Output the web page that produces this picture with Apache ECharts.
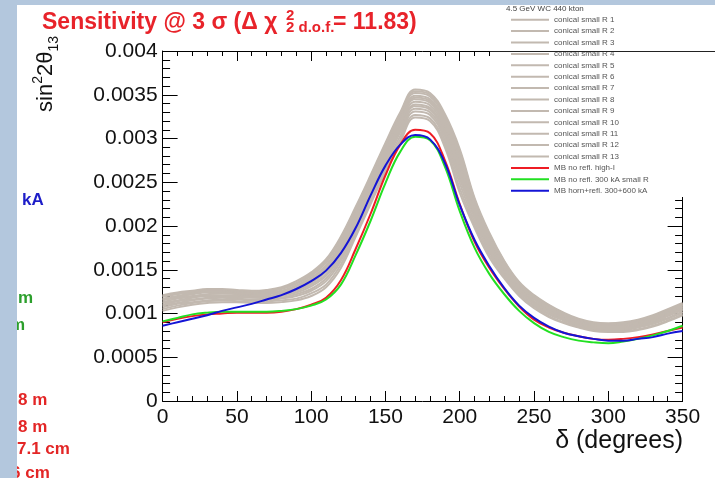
<!DOCTYPE html>
<html>
<head>
<meta charset="utf-8">
<script src="https://cdn.jsdelivr.net/npm/echarts@6/dist/echarts.min.js"></script>
<style>
html, body { margin: 0; padding: 0; background: #fff; }
#ch { width: 715px; height: 478px; }
</style>
</head>
<body>
<div id="ch"></div>
<script>
// delta in degrees, sensitivity values in units of 1e-3 (axis labels show the real value)
const delta = [0, 10, 20, 30, 40, 50, 60, 70, 80, 90, 100, 110, 120, 130, 140, 150, 160, 170,
  180, 190, 200, 210, 220, 230, 240, 250, 260, 270, 280, 290, 300, 310, 320, 330, 340, 350]

const conical1 = [1.21, 1.24, 1.26, 1.28, 1.28, 1.27, 1.26, 1.27, 1.30, 1.37, 1.47, 1.62, 1.88, 2.22, 2.58, 2.95, 3.30, 3.56, 3.52, 3.28, 2.88, 2.32, 1.92, 1.60, 1.36, 1.21, 1.10, 1.01, 0.94, 0.90, 0.89, 0.90, 0.93, 0.98, 1.05, 1.12]
const conical2 = [1.20, 1.23, 1.25, 1.27, 1.27, 1.26, 1.25, 1.26, 1.29, 1.35, 1.45, 1.60, 1.86, 2.20, 2.56, 2.93, 3.28, 3.54, 3.50, 3.25, 2.85, 2.30, 1.90, 1.59, 1.35, 1.20, 1.09, 1.00, 0.93, 0.89, 0.88, 0.89, 0.92, 0.97, 1.04, 1.11]
const conical3 = [1.19, 1.22, 1.24, 1.26, 1.26, 1.25, 1.24, 1.25, 1.28, 1.34, 1.43, 1.58, 1.83, 2.17, 2.53, 2.90, 3.25, 3.52, 3.48, 3.23, 2.81, 2.27, 1.88, 1.57, 1.34, 1.19, 1.08, 0.99, 0.93, 0.89, 0.88, 0.89, 0.91, 0.96, 1.03, 1.10]
const conical4 = [1.17, 1.20, 1.23, 1.25, 1.25, 1.24, 1.23, 1.24, 1.26, 1.32, 1.41, 1.55, 1.80, 2.15, 2.51, 2.88, 3.23, 3.49, 3.45, 3.20, 2.78, 2.25, 1.86, 1.56, 1.33, 1.18, 1.07, 0.99, 0.92, 0.88, 0.87, 0.88, 0.90, 0.95, 1.02, 1.09]
const conical5 = [1.16, 1.19, 1.22, 1.24, 1.24, 1.23, 1.22, 1.23, 1.25, 1.31, 1.39, 1.53, 1.78, 2.13, 2.49, 2.86, 3.21, 3.47, 3.43, 3.17, 2.74, 2.23, 1.84, 1.54, 1.32, 1.17, 1.06, 0.98, 0.91, 0.87, 0.86, 0.87, 0.90, 0.94, 1.01, 1.08]
const conical6 = [1.15, 1.18, 1.20, 1.22, 1.23, 1.22, 1.21, 1.22, 1.24, 1.29, 1.37, 1.51, 1.75, 2.10, 2.46, 2.83, 3.18, 3.45, 3.41, 3.14, 2.70, 2.20, 1.82, 1.53, 1.30, 1.16, 1.05, 0.97, 0.90, 0.86, 0.85, 0.86, 0.89, 0.93, 1.00, 1.07]
const conical7 = [1.13, 1.17, 1.19, 1.21, 1.21, 1.21, 1.20, 1.20, 1.23, 1.27, 1.35, 1.48, 1.72, 2.07, 2.44, 2.81, 3.15, 3.42, 3.38, 3.11, 2.66, 2.17, 1.80, 1.51, 1.29, 1.14, 1.04, 0.96, 0.90, 0.86, 0.85, 0.85, 0.88, 0.92, 0.99, 1.06]
const conical8 = [1.12, 1.15, 1.18, 1.20, 1.20, 1.20, 1.19, 1.19, 1.21, 1.26, 1.33, 1.45, 1.69, 2.04, 2.41, 2.78, 3.12, 3.39, 3.35, 3.08, 2.62, 2.14, 1.77, 1.50, 1.28, 1.13, 1.03, 0.95, 0.89, 0.85, 0.84, 0.84, 0.87, 0.91, 0.98, 1.05]
const conical9 = [1.10, 1.14, 1.16, 1.18, 1.19, 1.19, 1.18, 1.18, 1.20, 1.24, 1.31, 1.43, 1.66, 2.02, 2.38, 2.75, 3.10, 3.37, 3.33, 3.05, 2.58, 2.12, 1.75, 1.48, 1.26, 1.12, 1.02, 0.94, 0.88, 0.84, 0.83, 0.83, 0.86, 0.90, 0.97, 1.04]
const conical10 = [1.09, 1.12, 1.15, 1.17, 1.18, 1.17, 1.16, 1.17, 1.18, 1.22, 1.28, 1.40, 1.63, 1.99, 2.35, 2.72, 3.07, 3.34, 3.30, 3.02, 2.54, 2.09, 1.73, 1.46, 1.25, 1.11, 1.00, 0.93, 0.87, 0.83, 0.82, 0.82, 0.85, 0.89, 0.95, 1.02]
const conical11 = [1.07, 1.11, 1.13, 1.15, 1.16, 1.16, 1.15, 1.15, 1.17, 1.20, 1.26, 1.37, 1.60, 1.95, 2.32, 2.69, 3.03, 3.31, 3.27, 2.98, 2.49, 2.05, 1.70, 1.44, 1.23, 1.09, 0.99, 0.92, 0.86, 0.82, 0.81, 0.81, 0.84, 0.88, 0.94, 1.01]
const conical12 = [1.05, 1.09, 1.12, 1.14, 1.15, 1.14, 1.13, 1.14, 1.15, 1.17, 1.23, 1.33, 1.56, 1.91, 2.28, 2.65, 2.99, 3.27, 3.23, 2.94, 2.43, 2.01, 1.67, 1.42, 1.22, 1.08, 0.97, 0.90, 0.85, 0.81, 0.80, 0.80, 0.82, 0.86, 0.92, 0.99]
const conical13 = [1.03, 1.07, 1.10, 1.12, 1.13, 1.13, 1.12, 1.12, 1.13, 1.15, 1.20, 1.30, 1.52, 1.88, 2.25, 2.62, 2.96, 3.24, 3.20, 2.90, 2.38, 1.98, 1.64, 1.40, 1.20, 1.06, 0.96, 0.89, 0.84, 0.80, 0.79, 0.79, 0.81, 0.85, 0.91, 0.98]

const mbHighI = [0.90, 0.94, 0.97, 0.99, 1.00, 1.01, 1.01, 1.01, 1.02, 1.05, 1.10, 1.18, 1.38, 1.74, 2.14, 2.58, 2.93, 3.10, 3.06, 2.75, 2.25, 1.82, 1.52, 1.28, 1.08, 0.93, 0.84, 0.78, 0.74, 0.71, 0.70, 0.71, 0.73, 0.76, 0.80, 0.84]
const mbSmallR = [0.91, 0.95, 0.99, 1.01, 1.02, 1.02, 1.02, 1.02, 1.03, 1.05, 1.09, 1.16, 1.33, 1.67, 2.06, 2.49, 2.85, 3.02, 2.98, 2.68, 2.17, 1.75, 1.45, 1.22, 1.03, 0.89, 0.79, 0.73, 0.69, 0.67, 0.66, 0.68, 0.71, 0.75, 0.80, 0.86]
const mbHornRefl = [0.86, 0.90, 0.94, 0.98, 1.03, 1.07, 1.11, 1.16, 1.21, 1.28, 1.37, 1.49, 1.69, 1.98, 2.35, 2.69, 2.93, 3.04, 2.99, 2.72, 2.24, 1.84, 1.54, 1.29, 1.09, 0.95, 0.85, 0.78, 0.74, 0.71, 0.69, 0.69, 0.71, 0.73, 0.77, 0.80]

const conicalNames = ['conical small R 1', 'conical small R 2', 'conical small R 3', 'conical small R 4',
  'conical small R 5', 'conical small R 6', 'conical small R 7', 'conical small R 8', 'conical small R 9',
  'conical small R 10', 'conical small R 11', 'conical small R 12', 'conical small R 13']
const conicalData = [conical1, conical2, conical3, conical4, conical5, conical6, conical7,
  conical8, conical9, conical10, conical11, conical12, conical13]
const mbNames = ['MB no refl. high-I', 'MB no refl. 300 kA small R', 'MB horn+refl. 300+600 kA']
const mbData = [mbHighI, mbSmallR, mbHornRefl]
const mbColors = ['#ee1c24', '#22e022', '#1414d6']

const cht = echarts.init(document.getElementById('ch'))

const font = 'Liberation Sans'
const red = '#e8232a'
const toPairs = arr => delta.map((d, i) => [d, arr[i]])

const series = []
conicalData.forEach((arr, k) => {
  series.push({
    name: conicalNames[k], type: 'line', data: toPairs(arr), smooth: 0.4,
    showSymbol: false, lineStyle: { color: '#c2b9b0', width: 2 }, itemStyle: { color: '#c2b9b0' }
  })
})
mbData.forEach((arr, k) => {
  series.push({
    name: mbNames[k], type: 'line', data: toPairs(arr), smooth: 0.4,
    showSymbol: false, lineStyle: { color: mbColors[k], width: 2 }, itemStyle: { color: mbColors[k] }
  })
})

const xCommon = {
  type: 'value', min: 0, max: 350, interval: 50,
  axisLine: { onZero: false, lineStyle: { color: '#000', width: 1 } },
  axisTick: { inside: true, length: 10, lineStyle: { color: '#000' } },
  minorTick: { show: true, splitNumber: 5, length: 5, lineStyle: { color: '#000' } },
  splitLine: { show: false }
}
const yCommon = {
  type: 'value', min: 0, max: 4, interval: 0.5,
  axisLine: { onZero: false, lineStyle: { color: '#000', width: 1 } },
  axisTick: { inside: true, length: 15, lineStyle: { color: '#000' } },
  minorTick: { show: true, splitNumber: 5, length: 7.5, lineStyle: { color: '#000' } },
  splitLine: { show: false }
}

const plainText = (text, x, y, color, f) => ({
  type: 'text', x: x, y: y, z: 7,
  style: { text: text, fill: color, font: f, verticalAlign: 'middle' }
})
const leftText = (text, x, y, color) => Object.assign(
  plainText(text, x, y, color, 'bold 17px "Liberation Sans"'), { z: 1 })

const options = {
  backgroundColor: '#fff',
  animation: false,
  grid: { left: 162.6, right: 32.4, top: 51, bottom: 77 },
  xAxis: [
    Object.assign({}, xCommon, {
      position: 'bottom',
      axisLabel: { show: true, margin: 6, color: '#111', fontSize: 21, fontFamily: font, showMinLabel: true, showMaxLabel: true }
    }),
    Object.assign({}, xCommon, { position: 'top', axisLabel: { show: false } })
  ],
  yAxis: [
    Object.assign({}, yCommon, {
      position: 'left',
      axisLabel: {
        show: true, margin: 5, color: '#111', fontSize: 21, fontFamily: font,
        showMinLabel: true, showMaxLabel: true,
        formatter: v => (v === 0 ? '0' : String(Number((v / 1000).toPrecision(6))))
      }
    }),
    Object.assign({}, yCommon, { position: 'right', axisLabel: { show: false } })
  ],
  legend: {
    z: 6,
    orient: 'vertical', left: 511, top: 14, padding: 0, itemGap: 0,
    itemWidth: 38, itemHeight: 2, icon: 'rect', selectedMode: false,
    textStyle: { fontSize: 8, color: '#555', fontFamily: font, lineHeight: 11.4 },
    data: conicalNames.concat(mbNames)
  },
  series: series,
  graphic: [
    // legend box and the line running through it
    { type: 'rect', z: 5, shape: { x: 495, y: 5, width: 220, height: 192 }, style: { fill: '#fff' } },
    { type: 'line', z: 7, shape: { x1: 490, y1: 51.5, x2: 715, y2: 51.5 }, style: { stroke: '#222', lineWidth: 1 } },
    plainText('4.5 GeV WC 440 kton', 506, 9, '#444', '8px "Liberation Sans"'),
    // title
    plainText('Sensitivity @ 3 σ (Δ χ', 42, 23, red, 'bold 23px "Liberation Sans"'),
    plainText('2', 286, 16, red, 'bold 15px "Liberation Sans"'),
    plainText('2 d.o.f.', 286, 28, red, 'bold 15px "Liberation Sans"'),
    plainText('= 11.83)', 333, 23, red, 'bold 23px "Liberation Sans"'),
    // axis titles
    {
      type: 'text', z: 7, x: 46, y: 36, rotation: Math.PI / 2,
      style: {
        text: '{a|sin}{b|2}{a|2θ}{c|13}', align: 'right', verticalAlign: 'middle',
        rich: {
          a: { fontSize: 22, fontFamily: font, fill: '#111', lineHeight: 30 },
          b: { fontSize: 14, fontFamily: font, fill: '#111', verticalAlign: 'top', lineHeight: 30 },
          c: { fontSize: 14, fontFamily: font, fill: '#111', verticalAlign: 'bottom', lineHeight: 22 }
        }
      }
    },
    {
      type: 'text', z: 7, x: 683, y: 441,
      style: { text: 'δ (degrees)', fill: '#111', font: '25px "Liberation Sans"', align: 'right', verticalAlign: 'middle' }
    },
    // pieces of the slide text peeking out on the left
    leftText('kA', 22, 200, '#1d1dc8'),
    leftText('m', 18, 298, '#2c9f2c'),
    leftText('m', 10, 325, '#2c9f2c'),
    leftText('8 m', 18, 400, '#e32626'),
    leftText('8 m', 18, 427, '#e32626'),
    leftText('7.1 cm', 17, 449, '#e32626'),
    leftText('6 cm', 11, 473, '#e32626'),
    // slide background strips
    { type: 'rect', z: 20, shape: { x: 0, y: 0, width: 17, height: 478 }, style: { fill: '#b3c7dd' } },
    { type: 'rect', z: 20, shape: { x: 0, y: 0, width: 715, height: 5 }, style: { fill: '#b3c7dd' } }
  ]
}
cht.setOption(options)
</script>
</body>
</html>
